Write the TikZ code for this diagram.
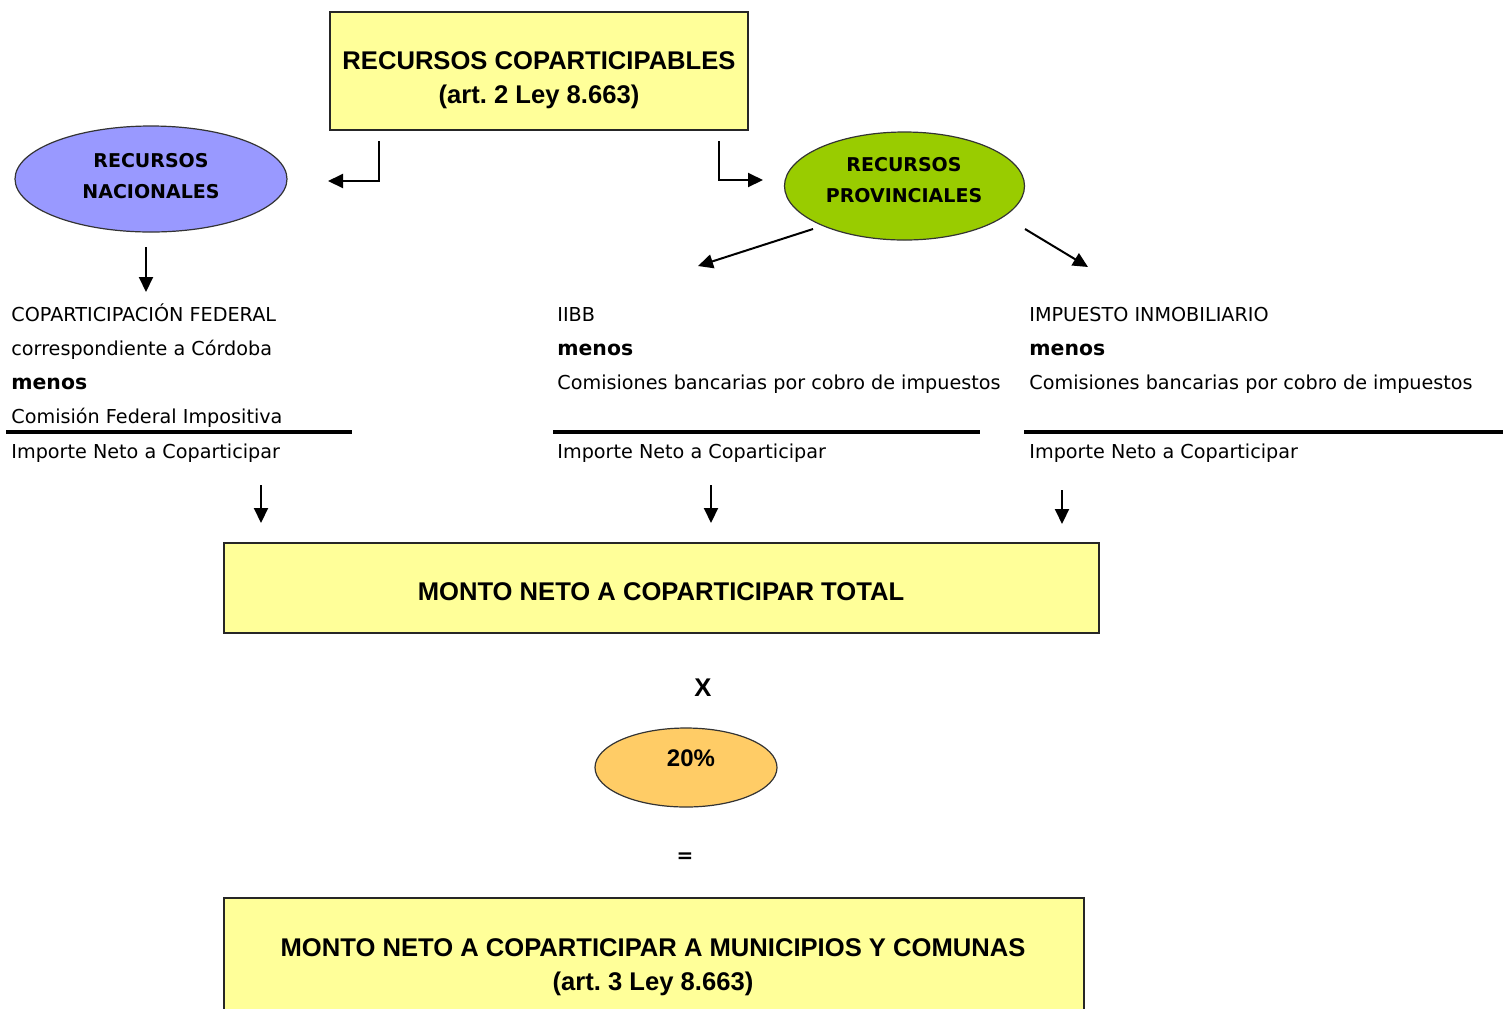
\documentclass[tikz,border=0pt]{standalone}
\usepackage{fontspec}
\setmainfont{DejaVu Sans}
\newfontfamily\cajafont{Liberation Sans}
\usetikzlibrary{shapes.geometric,arrows.meta}
\definecolor{amarillo}{HTML}{FFFF99}
\definecolor{azul}{HTML}{9999FF}
\definecolor{verde}{HTML}{99CC00}
\definecolor{naranja}{HTML}{FFCC66}
\frenchspacing

\begin{document}
\begin{tikzpicture}[x=0.5pt,y=-0.5pt,
    flecha/.style={-{Triangle[length=7.5pt,width=7pt]},line width=1pt,draw},
    caja/.style={draw=black!85,line width=1pt,fill=amarillo,inner sep=0pt},
    globo/.style={ellipse,draw=black!80,line width=0.6pt,inner sep=0pt},
    titulo/.style={font=\cajafont\bfseries\fontsize{12.8}{17}\selectfont,align=center,inner sep=0pt},
    rotulo/.style={font=\bfseries\fontsize{9.5}{15.5}\selectfont,align=center,inner sep=0pt},
    linea/.style={anchor=base west,inner sep=0pt,font=\fontsize{9.6}{11}\selectfont},
    menos/.style={linea,font=\bfseries\fontsize{10.2}{12}\selectfont},
    regla/.style={line width=1.8pt,draw}]

    \useasboundingbox (0,0) rectangle (1503,1008);

    % cajas y globos
    \node[caja,minimum width=209pt,minimum height=59pt] (rc) at (539,71) {};
    \node[titulo] (rcT) at (539,80) {RECURSOS COPARTICIPABLES\\(art.\ 2 Ley 8.663)};
    \node[globo,fill=azul,minimum width=136pt,minimum height=53pt] (rn) at (151,179) {};
    \node[rotulo] (rnT) at (151,176) {RECURSOS\\NACIONALES};
    \node[globo,fill=verde,minimum width=120pt,minimum height=54pt] (rp) at (904.5,186) {};
    \node[rotulo] (rpT) at (904,180) {RECURSOS\\PROVINCIALES};

    % columna nacional
    \node[linea] (n1) at (11,321) {COPARTICIPACIÓN FEDERAL};
    \node[linea] (n2) at (11,355) {correspondiente a Córdoba};
    \node[menos] (n3) at (11,389) {menos};
    \node[linea] (n4) at (11,423) {Comisión Federal Impositiva};
    \node[linea] (n5) at (11,458) {Importe Neto a Coparticipar};
    % columna IIBB
    \node[linea] (b1) at (557,321) {IIBB};
    \node[menos] (b2) at (557,355) {menos};
    \node[linea] (b3) at (557,389) {Comisiones bancarias por cobro de impuestos};
    \node[linea] (b4) at (557,458) {Importe Neto a Coparticipar};
    % columna inmobiliario
    \node[linea] (i1) at (1029,321) {IMPUESTO INMOBILIARIO};
    \node[menos] (i2) at (1029,355) {menos};
    \node[linea] (i3) at (1029,389) {Comisiones bancarias por cobro de impuestos};
    \node[linea] (i4) at (1029,458) {Importe Neto a Coparticipar};

    \path[regla] (6,432) -- (352,432);
    \path[regla] (553,432) -- (980,432);
    \path[regla] (1024,432) -- (1503,432);

    \node[caja,minimum width=437.5pt,minimum height=45pt] (tot) at (661.5,587.5) {};
    \node[titulo] (totT) at (661,592) {MONTO NETO A COPARTICIPAR TOTAL};
    \node[titulo] (por) at (703,688) {X};
    \node[globo,fill=naranja,minimum width=91pt,minimum height=39.5pt] (pc) at (686,767.5) {};
    \node[titulo,font=\cajafont\bfseries\fontsize{12}{14}\selectfont] (pcT) at (691,758) {20\%};
    \node[font=\bfseries\fontsize{10}{12}\selectfont,inner sep=0pt] (igual) at (685,858) {=};
    \node[caja,minimum width=430pt,minimum height=67pt] (mun) at (653.5,965) {};
    \node[titulo] (munT) at (653,967) {MONTO NETO A COPARTICIPAR A MUNICIPIOS Y COMUNAS\\(art.\ 3 Ley 8.663)};

    % flechas
    \coordinate (a1) at (379,141);
    \coordinate (a1e) at (328,181);
    \coordinate (a2) at (719,141);
    \coordinate (a2e) at (763,180);
    \coordinate (a3) at (146,247);
    \coordinate (a3e) at (146,292);
    \coordinate (a4) at (813,229);
    \coordinate (a4e) at (698,266);
    \coordinate (a5) at (1025,229);
    \coordinate (a5e) at (1088,267);
    \coordinate (d1) at (261,485);
    \coordinate (d1e) at (261,523);
    \coordinate (d2) at (711,485);
    \coordinate (d2e) at (711,523);
    \coordinate (d3) at (1062,490);
    \coordinate (d3e) at (1062,524);

    \path[flecha] (a1) |- (a1e);
    \path[flecha] (a2) |- (a2e);
    \path[flecha] (a3) -- (a3e);
    \path[flecha] (a4) -- (a4e);
    \path[flecha] (a5) -- (a5e);
    \path[flecha] (d1) -- (d1e);
    \path[flecha] (d2) -- (d2e);
    \path[flecha] (d3) -- (d3e);

\end{tikzpicture}
\end{document}
